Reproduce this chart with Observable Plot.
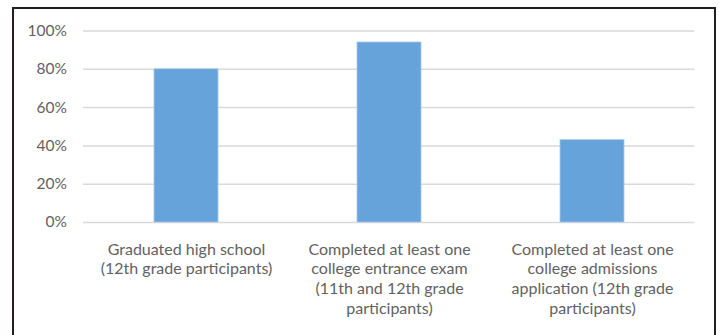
<!DOCTYPE html>
<html>
<head>
<meta charset="utf-8">
<script src="https://cdn.jsdelivr.net/npm/d3@7"></script>
<script src="https://cdn.jsdelivr.net/npm/@observablehq/plot@0.6"></script>
<style>
  html, body { margin: 0; padding: 0; background: #fff; }
  body { position: relative; width: 719px; height: 335px; overflow: hidden; }
  #frame { position: absolute; left: 12px; top: 7px; width: 700px; height: 340px; border: 2px solid #231f20; box-sizing: content-box; }
  #chart { position: absolute; left: 0; top: 0; }
</style>
</head>
<body>
<div id="frame"></div>
<div id="chart"></div>
<script>
const categories = [
  "Graduated high school\n(12th grade participants)",
  "Completed at least one\ncollege entrance exam\n(11th and 12th grade\nparticipants)",
  "Completed at least one\ncollege admissions\napplication (12th grade\nparticipants)"
];
const values = [0.80, 0.94, 0.43];
const yTicks = [0, 0.2, 0.4, 0.6, 0.8, 1.0];

const data = categories.map((c, i) => ({category: c, value: values[i]}));
const font = "Lato, 'Open Sans', sans-serif";
const gray = "#626262";

const chart = Plot.plot({
  width: 719,
  height: 335,
  marginLeft: 83,
  marginRight: 24.5,
  marginTop: 30.5,
  marginBottom: 113,
  style: {fontFamily: font, fontSize: "15px", color: gray, background: "transparent"},
  x: {domain: categories, paddingInner: 0.686, paddingOuter: 0.343, axis: null},
  y: {domain: [0, 1], axis: null},
  marks: [
    Plot.ruleY(yTicks, {stroke: "#d9d9d9", strokeWidth: 1.5}),
    Plot.barY(data, {x: "category", y: "value", fill: "#65a3da", stroke: "#a8c9ea", strokeWidth: 0.8}),
    Plot.text(yTicks, {
      y: d => d,
      text: d => d3.format(".0%")(d),
      frameAnchor: "left",
      textAnchor: "end",
      dx: -16.5,
      fill: gray,
      fontSize: 15.5
    }),
    Plot.text(categories, {
      x: d => d,
      text: d => d,
      frameAnchor: "bottom",
      lineAnchor: "top",
      dy: 18,
      lineHeight: 1.24,
      fill: gray,
      fontSize: 16
    })
  ]
});
document.getElementById("chart").appendChild(chart);
</script>
</body>
</html>
